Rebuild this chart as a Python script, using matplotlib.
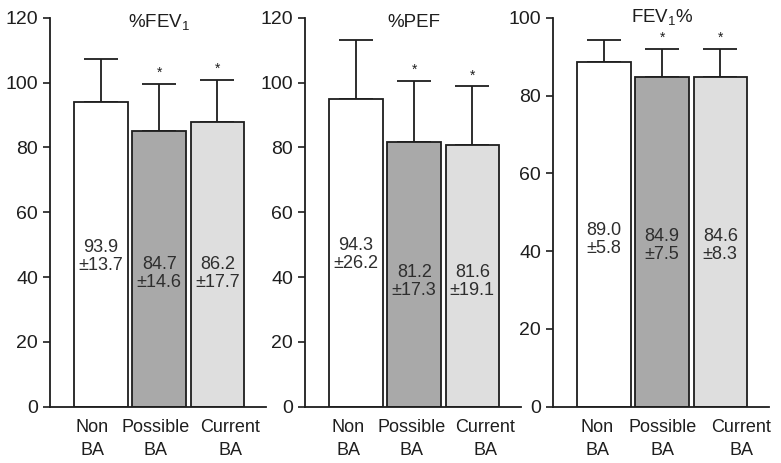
import numpy as np
import matplotlib
matplotlib.use('Agg')
from matplotlib import pyplot as plt

plt.rcParams['font.family'] = ['Liberation Sans', 'DejaVu Sans']
plt.rcParams['mathtext.fontset'] = 'custom'
plt.rcParams['mathtext.rm'] = 'Liberation Sans'

groups = ['Non\nBA', 'Possible\nBA', 'Current\nBA']
titles = [r'%FEV$_\mathregular{1}$', '%PEF', r'FEV$_\mathregular{1}$%']

# bar heights and upper error bars as drawn
fev1_pct = [94.0, 85.1, 87.9]
fev1_err = [13.2, 14.5, 12.9]
pef_pct = [94.9, 81.6, 80.9]
pef_err = [18.2, 19.0, 17.9]
fev1_ratio = [88.7, 84.7, 84.7]
fev1_ratio_err = [5.5, 7.3, 7.3]

# numbers printed inside the bars
fev1_labels = ['93.9\n±13.7', '84.7\n±14.6', '86.2\n±17.7']
pef_labels = ['94.3\n±26.2', '81.2\n±17.3', '81.6\n±19.1']
ratio_labels = ['89.0\n±5.8', '84.9\n±7.5', '84.6\n±8.3']
label_y = [[46.2, 41.2, 41.2], [47.1, 38.6, 38.6], [42.9, 41.4, 41.4]]

significant = [False, True, True]
colors = ['white', '#a9a9a9', '#dedede']
ymax = [120, 120, 100]
title_drop = [-3.5, -3.5, 0.0]
# group names are spread a little so they do not touch
name_shift = [[-0.15, -0.06, 0.22], [-0.13, -0.05, 0.22], [-0.12, 0.0, 0.36]]

panels = [(fev1_pct, fev1_err, fev1_labels),
          (pef_pct, pef_err, pef_labels),
          (fev1_ratio, fev1_ratio_err, ratio_labels)]
lefts = [0.064, 0.3905, 0.708]

fig = plt.figure(figsize=(7.81, 4.63), dpi=100)
x = np.arange(len(groups))

for i, (vals, errs, labels) in enumerate(panels):
    ax = fig.add_axes([lefts[i], 0.1216, 0.276, 0.840])
    ax.bar(x, vals, width=0.92, color=colors, edgecolor='#1e1e1e',
           linewidth=1.3, zorder=2)
    ax.errorbar(x, vals, yerr=[np.zeros(3), errs], fmt='none',
                ecolor='#1e1e1e', elinewidth=1.3, capsize=12,
                capthick=1.3, zorder=1)
    for j in range(len(groups)):
        ax.text(x[j], label_y[i][j], labels[j], ha='center', va='center',
                fontsize=13, color='#2e2e2e', linespacing=1.08, zorder=3)
        if significant[j]:
            ax.annotate('*', (x[j], vals[j] + errs[j]), xytext=(0, 3),
                        textcoords='offset points', ha='center',
                        va='bottom', fontsize=10, color='#1e1e1e')
    ax.annotate(titles[i], (1, ymax[i]), xytext=(0, title_drop[i]),
                textcoords='offset points', ha='center', va='center',
                fontsize=13.5, color='#1e1e1e')
    ax.set_xlim(-0.88, 2.83)
    ax.set_ylim(0, ymax[i])
    ax.set_yticks(np.arange(0, ymax[i] + 1, 20))
    ax.set_xticks(x + np.array(name_shift[i]))
    ax.set_xticklabels(groups, fontsize=13, color='#1e1e1e',
                       linespacing=1.45)
    ax.tick_params(axis='x', length=0, pad=9)
    ax.tick_params(axis='y', length=5, width=1.2, labelsize=14,
                   colors='#1e1e1e')
    for side in ['top', 'right']:
        ax.spines[side].set_visible(False)
    for side in ['left', 'bottom']:
        ax.spines[side].set_linewidth(1.3)
        ax.spines[side].set_color('#1e1e1e')

fig.savefig('out.png', dpi=100)
